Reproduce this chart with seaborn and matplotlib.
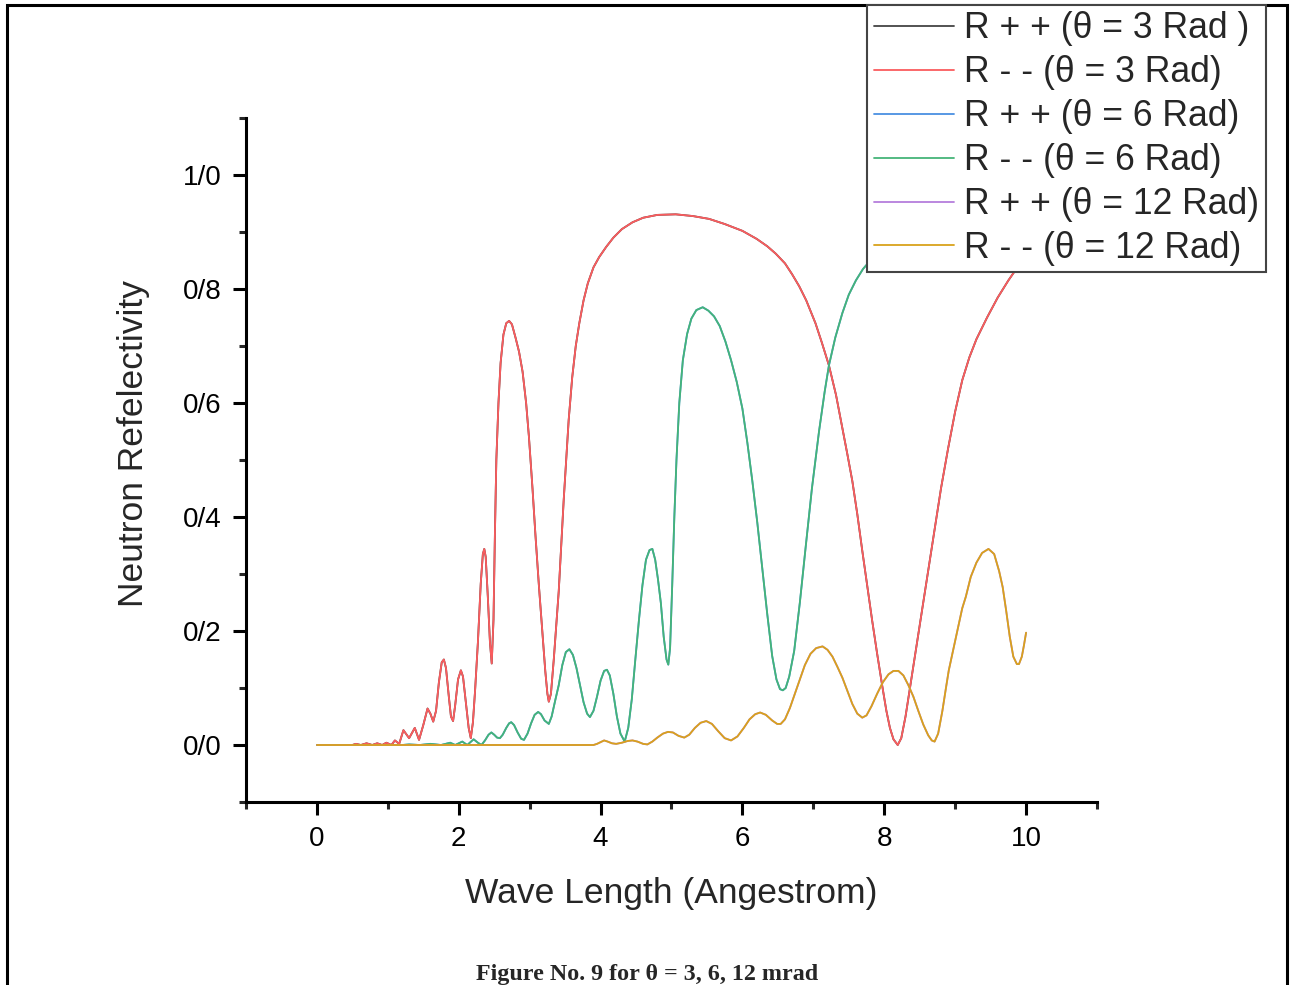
import seaborn as sns
import matplotlib.pyplot as plt
from matplotlib.patches import Rectangle
from matplotlib.ticker import MultipleLocator, FuncFormatter

# wave length (Angstrom) / reflectivity
x_3 = [0, 0.5, 0.55, 0.62, 0.7, 0.78, 0.85, 0.92, 0.98, 1.05, 1.1, 1.16, 1.22, 1.30, 1.38,
       1.44, 1.50, 1.56, 1.60, 1.64, 1.68, 1.72, 1.76, 1.79, 1.82, 1.86, 1.89, 1.92, 1.95,
       1.99, 2.03, 2.06, 2.10, 2.14, 2.17, 2.20, 2.23, 2.27, 2.31, 2.34, 2.36, 2.38, 2.41,
       2.44, 2.465, 2.49, 2.51, 2.53, 2.56, 2.59, 2.63, 2.67, 2.71, 2.75, 2.80, 2.85, 2.90,
       2.95, 2.99, 3.04, 3.08, 3.13, 3.18, 3.22, 3.25, 3.27, 3.30, 3.34, 3.38, 3.41, 3.45,
       3.48, 3.52, 3.55, 3.60, 3.65, 3.70, 3.76, 3.82, 3.90, 3.98, 4.08, 4.18, 4.30, 4.45,
       4.60, 4.80, 5.06, 5.30, 5.53, 5.75, 6.00, 6.20, 6.35, 6.47, 6.60, 6.70, 6.80, 6.90,
       7.03, 7.12, 7.22, 7.32, 7.41, 7.48, 7.55, 7.62, 7.69, 7.76, 7.83, 7.90, 7.97, 8.03,
       8.08, 8.13, 8.19, 8.24, 8.30, 8.40, 8.50, 8.60, 8.70, 8.80, 8.90, 9.00, 9.10, 9.20,
       9.30, 9.45, 9.60, 9.75, 9.90, 10.0]
r_3 = [0, 0, 0.002, 0, 0.003, 0, 0.003, 0, 0.004, 0, 0.008, 0.002, 0.026, 0.012, 0.03,
       0.009, 0.035, 0.064, 0.055, 0.041, 0.06, 0.11, 0.145, 0.15, 0.135, 0.085, 0.05, 0.042, 0.07,
       0.115, 0.131, 0.12, 0.075, 0.03, 0.012, 0.04, 0.095, 0.18, 0.283, 0.335, 0.344, 0.33, 0.26,
       0.18, 0.143, 0.22, 0.371, 0.5, 0.6, 0.67, 0.72, 0.74, 0.744, 0.738, 0.715, 0.69, 0.655,
       0.6, 0.54, 0.45, 0.371, 0.28, 0.196, 0.13, 0.09, 0.076, 0.09, 0.15, 0.22, 0.27, 0.36,
       0.43, 0.51, 0.57, 0.645, 0.7, 0.74, 0.78, 0.81, 0.838, 0.856, 0.874, 0.89, 0.905, 0.917,
       0.925, 0.93, 0.931, 0.928, 0.923, 0.914, 0.902, 0.888, 0.875, 0.862, 0.845, 0.826, 0.805, 0.78,
       0.740, 0.706, 0.666, 0.614, 0.556, 0.51, 0.463, 0.405, 0.341, 0.28, 0.218, 0.16, 0.105, 0.06,
       0.03, 0.01, 0.0, 0.012, 0.05, 0.13, 0.21, 0.29, 0.37, 0.45, 0.52, 0.585, 0.64, 0.68,
       0.712, 0.75, 0.785, 0.815, 0.842, 0.856]

x_6 = [0, 1.2, 1.3, 1.45, 1.6, 1.75, 1.88, 1.95, 2.05, 2.12, 2.21, 2.27, 2.32, 2.37, 2.42,
       2.46, 2.50, 2.54, 2.58, 2.62, 2.67, 2.71, 2.74, 2.78, 2.83, 2.88, 2.92, 2.97, 3.02,
       3.07, 3.12, 3.16, 3.21, 3.27, 3.31, 3.36, 3.41, 3.46, 3.51, 3.56, 3.61, 3.66, 3.71,
       3.76, 3.81, 3.85, 3.90, 3.95, 4.00, 4.05, 4.09, 4.13, 4.18, 4.23, 4.28, 4.34, 4.39,
       4.44, 4.49, 4.54, 4.59, 4.64, 4.69, 4.73, 4.77, 4.81, 4.85, 4.89, 4.93, 4.955, 4.98,
       5.01, 5.04, 5.07, 5.11, 5.16, 5.22, 5.28, 5.35, 5.44, 5.52, 5.60, 5.68, 5.76, 5.84,
       5.92, 6.00, 6.07, 6.14, 6.21, 6.28, 6.35, 6.42, 6.48, 6.53, 6.57, 6.61, 6.66, 6.73,
       6.81, 6.89, 6.98, 7.08, 7.16, 7.22, 7.31, 7.41, 7.50, 7.60, 7.70, 7.79, 7.90, 8.00,
       8.25, 8.50, 8.75, 9.00, 9.50, 10.0]
r_6 = [0, 0, 0.001, 0, 0.002, 0, 0.004, 0, 0.006, 0, 0.01, 0.004, 0.0, 0.008, 0.018,
       0.022, 0.018, 0.013, 0.012, 0.018, 0.03, 0.038, 0.04, 0.035, 0.022, 0.011, 0.009, 0.02, 0.038,
       0.053, 0.058, 0.054, 0.043, 0.037, 0.05, 0.078, 0.105, 0.14, 0.163, 0.168, 0.158, 0.135, 0.105,
       0.075, 0.055, 0.049, 0.06, 0.085, 0.113, 0.13, 0.132, 0.122, 0.09, 0.05, 0.02, 0.006, 0.03,
       0.08, 0.15, 0.218, 0.28, 0.325, 0.342, 0.344, 0.325, 0.29, 0.249, 0.19, 0.15, 0.141, 0.17,
       0.28, 0.40, 0.5, 0.6, 0.675, 0.721, 0.748, 0.763, 0.768, 0.762, 0.752, 0.735, 0.708, 0.675,
       0.637, 0.59, 0.53, 0.463, 0.39, 0.31, 0.23, 0.156, 0.115, 0.098, 0.096, 0.1, 0.12, 0.165,
       0.25, 0.345, 0.45, 0.55, 0.62, 0.666, 0.715, 0.758, 0.79, 0.815, 0.835, 0.848, 0.862, 0.875,
       0.895, 0.91, 0.92, 0.925, 0.93, 0.93]

x_12 = [0, 3.90, 3.95, 4.00, 4.05, 4.10, 4.16, 4.22, 4.30, 4.38, 4.45, 4.52, 4.60, 4.66, 4.73,
        4.80, 4.88, 4.95, 5.02, 5.10, 5.18, 5.25, 5.33, 5.41, 5.49, 5.57, 5.66, 5.75, 5.84,
        5.93, 6.02, 6.10, 6.18, 6.25, 6.33, 6.42, 6.49, 6.54, 6.60, 6.67, 6.74, 6.81, 6.88,
        6.96, 7.04, 7.13, 7.20, 7.27, 7.34, 7.41, 7.48, 7.55, 7.62, 7.69, 7.75, 7.82, 7.90,
        7.98, 8.06, 8.13, 8.20, 8.27, 8.34, 8.41, 8.48, 8.55, 8.62, 8.67, 8.71, 8.76, 8.82,
        8.87, 8.91, 9.03, 9.10, 9.15, 9.22, 9.30, 9.38, 9.47, 9.55, 9.62, 9.67, 9.72, 9.77,
        9.82, 9.87, 9.90, 9.94, 9.97, 10.0]
r_12 = [0, 0, 0.002, 0.005, 0.008, 0.006, 0.003, 0.002, 0.004, 0.007, 0.008, 0.006, 0.002, 0.001, 0.006,
        0.013, 0.02, 0.023, 0.022, 0.016, 0.013, 0.018, 0.03, 0.039, 0.042, 0.037, 0.024, 0.012, 0.008,
        0.015, 0.03, 0.045, 0.054, 0.057, 0.053, 0.043, 0.037, 0.037, 0.045, 0.065, 0.09, 0.115, 0.14,
        0.16, 0.17, 0.173, 0.167, 0.155, 0.137, 0.118, 0.095, 0.072, 0.055, 0.048, 0.052, 0.068, 0.09,
        0.11, 0.124, 0.13, 0.13, 0.122, 0.105, 0.085, 0.06, 0.036, 0.017, 0.008, 0.006, 0.02, 0.06,
        0.1, 0.131, 0.2, 0.24, 0.26, 0.295, 0.32, 0.337, 0.344, 0.335, 0.305, 0.277, 0.235, 0.19,
        0.155, 0.142, 0.142, 0.155, 0.175, 0.197]

# R++ curves coincide with the R-- ones (hidden underneath in the figure)
series = [
    ("R + + (θ = 3 Rad )", x_3, r_3, "#444444"),
    ("R - - (θ = 3 Rad)", x_3, r_3, "#FA5C5E"),
    ("R + + (θ = 6 Rad)", x_6, r_6, "#4A90E2"),
    ("R - - (θ = 6 Rad)", x_6, r_6, "#45B478"),
    ("R + + (θ = 12 Rad)", x_12, r_12, "#B57EDC"),
    ("R - - (θ = 12 Rad)", x_12, r_12, "#D9A21B"),
]

sns.set_style("ticks")
plt.rcParams['font.family'] = ['Liberation Sans', 'DejaVu Sans']

fig = plt.figure(figsize=(12.93, 9.85), dpi=100)
ax = fig.add_axes([246 / 1293, 1 - 802 / 985, (1097 - 246) / 1293, (802 - 118) / 985])

for label, xs, ys, color in series:
    sns.lineplot(x=xs, y=ys, ax=ax, color=color, linewidth=1.3, label=label, sort=False)

ax.set_xlim(-1, 11)
ax.set_ylim(-0.1, 1.1)
ax.xaxis.set_major_locator(MultipleLocator(2))
ax.xaxis.set_minor_locator(MultipleLocator(1))
ax.yaxis.set_major_locator(MultipleLocator(0.2))
ax.yaxis.set_minor_locator(MultipleLocator(0.1))
ax.xaxis.set_major_formatter(FuncFormatter(lambda v, p: f"{v:.0f}"))
# the original uses "/" as decimal separator
ax.yaxis.set_major_formatter(FuncFormatter(lambda v, p: f"{v:.1f}".replace(".", "/")))

sns.despine(ax=ax)
for s in ["left", "bottom"]:
    ax.spines[s].set_linewidth(2.2)
    ax.spines[s].set_color("black")
ax.tick_params(which="major", direction="out", length=9.5, width=2.2, labelsize=20, pad=8, colors="black")
ax.tick_params(which="minor", direction="out", length=5, width=2.2)

ax.set_xlabel("Wave Length (Angestrom)", fontsize=25.5, labelpad=18)
ax.set_ylabel("Neutron Refelectivity", fontsize=25.5)
ax.yaxis.set_label_coords(-0.113, 0.524)

ax.get_legend().remove()
handles, labels = ax.get_legend_handles_labels()
leg = fig.legend(handles, labels, loc="upper right", bbox_to_anchor=(1266 / 1293, 1 - 5 / 985),
                 fontsize=25.6, frameon=True, fancybox=False, framealpha=1, edgecolor="#444444",
                 borderpad=0.18, handlelength=2.25, handletextpad=0.3, labelspacing=0.25,
                 borderaxespad=0)
leg.get_frame().set_linewidth(1.5)

fig.text(0.5008, 5 / 985, "Figure No. 9 for θ = 3, 6, 12 mrad", ha="center", va="baseline",
         fontsize=17.3, fontweight="bold", family=["Liberation Serif", "DejaVu Serif"])

# page border around the figure
fig.patches.append(Rectangle((7 / 1293, -0.02), (1287 - 7) / 1293, 1 - 5 / 985 + 0.02,
                             transform=fig.transFigure, fill=False, edgecolor="black",
                             linewidth=2.2, clip_on=False))

fig.savefig("out.png", dpi=100)
